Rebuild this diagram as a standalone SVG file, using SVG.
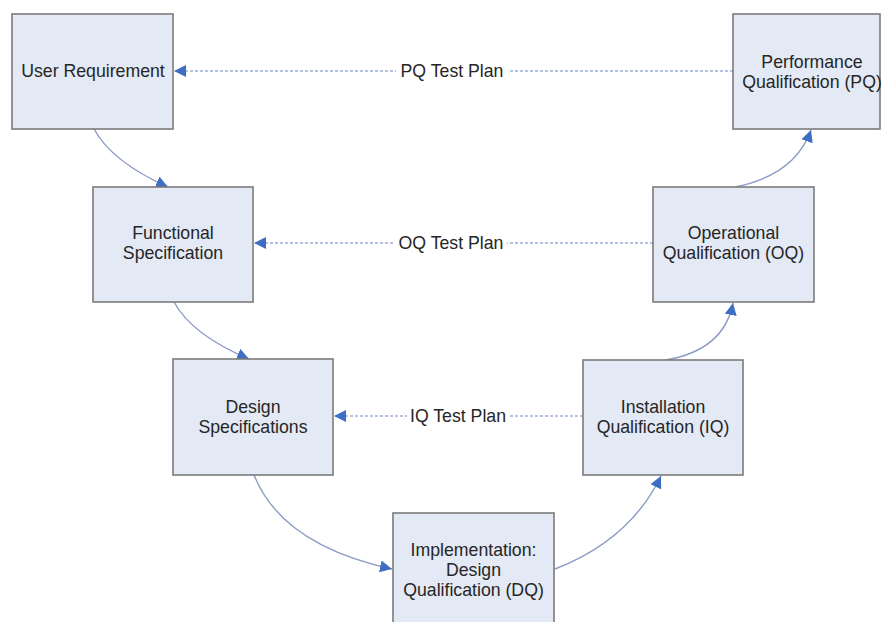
<svg xmlns="http://www.w3.org/2000/svg" width="882" height="622" viewBox="0 0 882 622">
<defs>
<style>
.box{fill:#e3e9f5;stroke:#7b7b7b;stroke-width:1.6}
.t{font-family:"Liberation Sans",Arial,sans-serif;font-size:17.7px;fill:#262626;text-anchor:middle}
.flow{fill:none;stroke:#8c9cc6;stroke-width:1.4}
.dash{fill:none;stroke:#9db0d6;stroke-width:1.3;stroke-dasharray:3 2}
.lbl{font-family:"Liberation Sans",Arial,sans-serif;font-size:17.7px;fill:#262626;text-anchor:middle}
</style>
<marker id="ah" viewBox="0 0 10 10" refX="10" refY="5" markerWidth="12" markerHeight="12" markerUnits="userSpaceOnUse" orient="auto">
<path d="M0,0 L10,5 L0,10 z" fill="#3e6ec3"/>
</marker>
</defs>
<rect width="882" height="622" fill="#ffffff"/>
<g id="connectors">
<path class="flow" d="M94,129 Q112,162 168,187" marker-end="url(#ah)"/>
<path class="flow" d="M174,302 Q192,335 249,359" marker-end="url(#ah)"/>
<path class="flow" d="M254,475 Q282,545 392,569" marker-end="url(#ah)"/>
<path class="flow" d="M555,569 Q630,540 661,476" marker-end="url(#ah)"/>
<path class="flow" d="M666,360 Q724,350 733,303" marker-end="url(#ah)"/>
<path class="flow" d="M735,187 Q795,175 811,130" marker-end="url(#ah)"/>
<path class="dash" d="M733,71 L174,71" marker-end="url(#ah)"/>
<path class="dash" d="M653,243 L254,243" marker-end="url(#ah)"/>
<path class="dash" d="M583,416 L334,416" marker-end="url(#ah)"/>
<rect x="396" y="61" width="112" height="20" fill="#ffffff"/>
<rect x="395" y="233" width="112" height="20" fill="#ffffff"/>
<rect x="407" y="406" width="101" height="20" fill="#ffffff"/>
<text class="lbl" x="452" y="77">PQ Test Plan</text>
<text class="lbl" x="451" y="249">OQ Test Plan</text>
<text class="lbl" x="458" y="422">IQ Test Plan</text>
</g>
<g id="user-requirement">
<rect class="box" x="12" y="14" width="161" height="115"/>
<text class="t" x="93" y="77">User Requirement</text>
</g>
<g id="functional-specification">
<rect class="box" x="93" y="187" width="160" height="115"/>
<text class="t" x="173" y="239">Functional</text>
<text class="t" x="173" y="259">Specification</text>
</g>
<g id="design-specifications">
<rect class="box" x="173" y="359" width="160" height="116"/>
<text class="t" x="253" y="413">Design</text>
<text class="t" x="253" y="433">Specifications</text>
</g>
<g id="implementation">
<rect class="box" x="393" y="513" width="161" height="115"/>
<text class="t" x="473.5" y="556">Implementation:</text>
<text class="t" x="473.5" y="576">Design</text>
<text class="t" x="473.5" y="596">Qualification (DQ)</text>
</g>
<g id="installation-qualification">
<rect class="box" x="583" y="360" width="160" height="115"/>
<text class="t" x="663" y="413">Installation</text>
<text class="t" x="663" y="433">Qualification (IQ)</text>
</g>
<g id="operational-qualification">
<rect class="box" x="653" y="187" width="161" height="115"/>
<text class="t" x="733.5" y="239">Operational</text>
<text class="t" x="733.5" y="259">Qualification (OQ)</text>
</g>
<g id="performance-qualification">
<rect class="box" x="733" y="14" width="147" height="115"/>
<text class="t" x="812" y="68">Performance</text>
<text class="t" x="812" y="88">Qualification (PQ)</text>
</g>
</svg>
